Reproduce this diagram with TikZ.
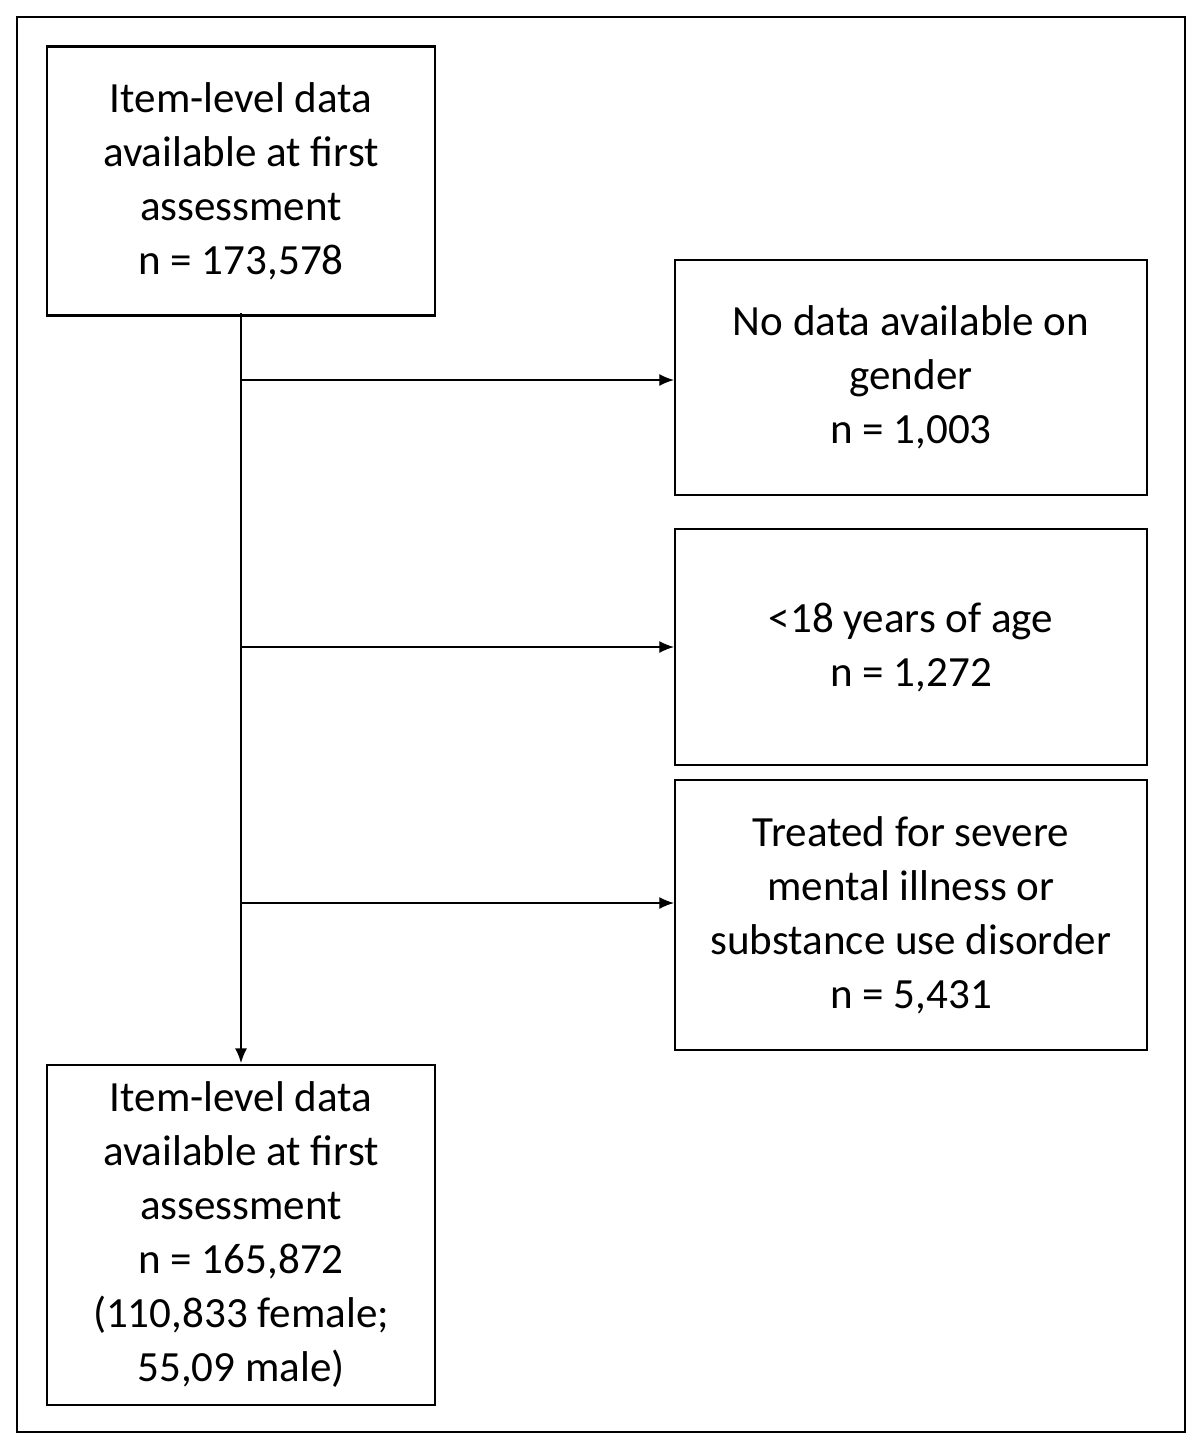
\documentclass[tikz,border=0pt]{standalone}
\usepackage{fontspec}
\setmainfont{Carlito}
\usetikzlibrary{arrows.meta}
\begin{document}
\begin{tikzpicture}[x=0.75pt,y=-0.75pt,
  box/.style={draw,line width=1.6pt,align=center,inner sep=0pt,
    font=\fontsize{32.3}{40.5}\selectfont},
  arr/.style={line width=1pt,-{Latex[length=11pt,width=9pt]}}]
\useasboundingbox (0,0) rectangle (1200,1449);
\draw[line width=1.2pt] (17,17) rectangle (1185,1432);
\node[box,minimum width=388*0.75pt,minimum height=269*0.75pt] (a) at (241,181)
 {Item-level data\\available at first\\assessment\\n = 173,578};
\node[box,minimum width=472*0.75pt,minimum height=235*0.75pt] (b) at (911,377.5)
 {No data available on\\gender\\n = 1,003};
\node[box,minimum width=472*0.75pt,minimum height=236*0.75pt] (c) at (911,647)
 {<18 years of age\\n = 1,272};
\node[box,minimum width=472*0.75pt,minimum height=270*0.75pt] (d) at (911,915)
 {Treated for severe\\mental illness or\\substance use disorder\\n = 5,431};
\node[box,minimum width=388*0.75pt,minimum height=340*0.75pt] (e) at (241,1235)
 {Item-level data\\available at first\\assessment\\n = 165,872\\(110,833 female;\\55,09 male)};
\draw[arr] (241,313) -- (241,1063);
\coordinate (p1) at (241,380); \coordinate (p2) at (241,647); \coordinate (p3) at (241,903);
\draw[arr] (p1) -- (b.west|-p1);
\draw[arr] (p2) -- (c.west|-p2);
\draw[arr] (p3) -- (d.west|-p3);
\end{tikzpicture}
\end{document}
